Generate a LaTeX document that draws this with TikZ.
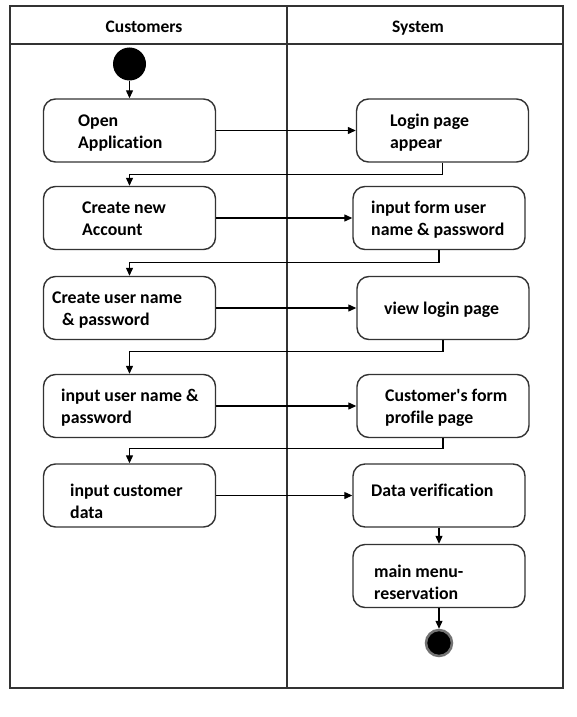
\documentclass[tikz,border=0pt]{standalone}
\usepackage{fontspec}
\setmainfont{Carlito}[RawFeature={-liga;-clig;-dlig}]
\usetikzlibrary{arrows.meta}
\begin{document}
\begin{tikzpicture}[x=1pt,y=-1pt,
  frame/.style={draw=black!80,line width=1.6pt},
  act/.style={draw=black!80,line width=1.4pt,rounded corners=12pt,fill=white,minimum width=172pt,minimum height=63pt,inner sep=0pt},
  txt/.style={anchor=west,align=left,inner sep=0pt,font=\bfseries\fontsize{17.8}{22}\selectfont},
  hdr/.style={font=\bfseries\fontsize{17.5}{20}\selectfont,inner sep=0pt,anchor=base},
  flow/.style={draw=black,line width=1.2pt,-{Triangle[length=8pt,width=7pt]}},
]
\useasboundingbox (0,0) rectangle (577,717);
% frame
\draw[frame] (10,6) rectangle (563,688);
\draw[frame] (10,44) -- (563,44);
\draw[frame] (287,6) -- (287,688);
\node[hdr] (hc) at (144,33) {Customers};
\node[hdr] (hs) at (418,33) {System};
% activities
\node[act] (oa) at (129.5,130.5) {};
\node[act] (cna) at (129.5,218) {};
\node[act] (cun) at (129.5,308) {};
\node[act] (iun) at (129.5,406) {};
\node[act] (icd) at (129.5,495.5) {};
\node[act] (lp) at (442.5,130.5) {};
\node[act] (ifu) at (439,218) {};
\node[act] (vlp) at (443,308) {};
\node[act] (cfp) at (443,406) {};
\node[act] (dv) at (439,495.5) {};
\node[act] (mm) at (439,576) {};
% texts
\node[txt] (toa) at (78,133) {Open\\Applicat\kern0pt ion};
\node[txt] (tcna) at (82,219) {Create new\\Account};
\node[txt] (tcun) at (52,310) {Create user name\\\hspace{10pt}\& password};
\node[txt] (tiun) at (61,408) {input user name \&\\password};
\node[txt] (ticd) at (70,501) {input customer\\data};
\node[txt] (tlp) at (390,133) {Login page\\appear};
\node[txt] (tifu) at (371,220) {input form user\\name \& password};
\node[txt] (tvlp) at (384,310) {view login page};
\node[txt] (tcfp) at (385,408) {Customer\textquotesingle s form\\profile page};
\node[txt] (tdv) at (371,490) {Data verificat\kern0pt ion};
\node[txt] (tmm) at (374,582) {main menu-\\reservat\kern0pt ion};
% start / end
\node[circle,fill=black,minimum size=33pt,inner sep=0pt] (start) at (129.5,64) {};
\node[circle,draw=black!55,line width=2.5pt,fill=black,minimum size=26pt,inner sep=0pt] (end) at (439,643) {};
% flows
\draw[flow] (start) -- (oa);
\draw[flow] (oa) -- (lp);
\draw[flow] (lp.south) -- ++(0,12) -| (cna.north);
\draw[flow] (cna) -- (ifu);
\draw[flow] (ifu.south) -- ++(0,12) -| (cun.north);
\draw[flow] (cun) -- (vlp);
\draw[flow] (vlp.south) -- ++(0,11) -| (iun.north);
\draw[flow] (iun) -- (cfp);
\draw[flow] (cfp.south) -- ++(0,10) -| (icd.north);
\draw[flow] (icd) -- (dv);
\draw[flow] (dv) -- (mm);
\draw[flow] (mm) -- (end);
\end{tikzpicture}
\end{document}
